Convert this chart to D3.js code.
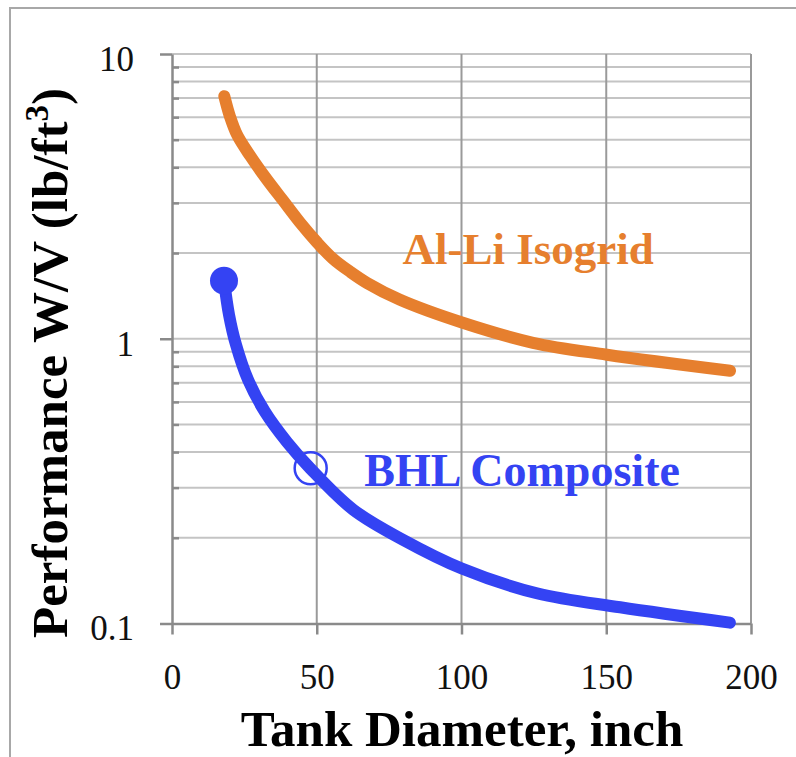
<!DOCTYPE html>
<meta charset="utf-8">
<style>
html, body { margin: 0; background: #fff; }
svg { font-family: "Liberation Serif", "Times New Roman", serif; }
.grid-h line { stroke: #c4c4c4; stroke-width: 2; }
.grid-v line { stroke: #9a9a9a; stroke-width: 2; }
.axis path, .axis line { stroke: #8a8a8a; stroke-width: 2.5; }
.axis text { fill: #111; font-size: 35px; font-family: "Liberation Serif", "Times New Roman", serif; }
.curve { fill: none; stroke-width: 12; stroke-linecap: round; stroke-linejoin: round; }
</style>
<body></body>
<script src="https://d3js.org/d3.v7.min.js"></script>
<script>

// data (diameter in inch, W/V in lb/ft3)
var aliX = [18.07, 20.03, 22.45, 26.94, 32.82, 38.34, 44.21, 50.09, 55.61, 61.49, 67.36, 78.76, 100.17, 124.7, 150.26, 192.75];
var aliY = [7.11, 6.03, 5.21, 4.40, 3.62, 3.06, 2.56, 2.18, 1.91, 1.72, 1.57, 1.37, 1.14, 0.968, 0.879, 0.772];
var bhlX = [17.96, 19.7, 22.1, 26.25, 32.1, 39.7, 47.7, 62.6, 79.9, 100.1, 126, 154.8, 192.7];
var bhlY = [1.6, 1.214, 0.953, 0.718, 0.554, 0.434, 0.351, 0.251, 0.1965, 0.156, 0.1277, 0.114, 0.1007];
var openMarker = [47.9, 0.351];

var xTicks = [0, 50, 100, 150, 200];
var yMajor = [0.1, 1, 10];
var yMinor = [0.2, 0.3, 0.4, 0.5, 0.6, 0.7, 0.8, 0.9, 2, 3, 4, 5, 6, 7, 8, 9];

var margin = {top: 54, left: 172},
    width = 579,
    height = 569.5;

var svg = d3.select("body").append("svg")
    .attr("width", 796)
    .attr("height", 757);

// outer frame
svg.append("rect")
    .attr("x", 10).attr("y", 8)
    .attr("width", 900).attr("height", 900)
    .attr("fill", "none").attr("stroke", "#a8a8a8").attr("stroke-width", 2);

var g = svg.append("g")
    .attr("transform", "translate(" + margin.left + "," + margin.top + ")");

var x = d3.scaleLinear().domain([0, 200]).range([0, width]);
var y = d3.scaleLog().domain([0.1, 10]).range([height, 0]);

// gridlines
g.append("g").attr("class", "grid-h")
  .selectAll("line").data(yMinor.concat([1, 10]))
  .join("line")
    .attr("x1", 0).attr("x2", width)
    .attr("y1", function(d) { return y(d); })
    .attr("y2", function(d) { return y(d); });

g.append("g").attr("class", "grid-v")
  .selectAll("line").data(xTicks.slice(1))
  .join("line")
    .attr("x1", function(d) { return x(d); })
    .attr("x2", function(d) { return x(d); })
    .attr("y1", 0).attr("y2", height);

// axes
g.append("g")
    .attr("class", "axis")
    .attr("transform", "translate(0," + height + ")")
    .call(d3.axisBottom(x).tickValues(xTicks).tickSize(11).tickPadding(30).tickSizeOuter(0))
  .selectAll("text").attr("dy", "0.7em");

g.append("g")
    .attr("class", "axis")
    .call(d3.axisLeft(y).tickValues(yMajor).tickFormat(d3.format("")).tickSize(12).tickPadding(26).tickSizeOuter(0))
  .selectAll("text").attr("dy", "0.47em");

g.append("g")
    .attr("class", "axis")
    .call(d3.axisRight(y).tickValues(yMinor).tickFormat("").tickSize(7).tickSizeOuter(0))
  .select(".domain").remove();

// curves
var line = d3.line()
    .x(function(d) { return x(d[0]); })
    .y(function(d) { return y(d[1]); })
    .curve(d3.curveCatmullRom.alpha(0.5));

g.append("path")
    .datum(d3.zip(aliX, aliY))
    .attr("class", "curve")
    .attr("stroke", "#e67f2e")
    .attr("d", line);

g.append("path")
    .datum(d3.zip(bhlX, bhlY))
    .attr("class", "curve")
    .attr("stroke", "#3443f3")
    .attr("d", line);

// markers
g.append("circle")
    .attr("cx", x(bhlX[0])).attr("cy", y(bhlY[0]))
    .attr("r", 14).attr("fill", "#3443f3");

g.append("circle")
    .attr("cx", x(openMarker[0])).attr("cy", y(openMarker[1]))
    .attr("r", 16).attr("fill", "none")
    .attr("stroke", "#3443f3").attr("stroke-width", 2.5);

// series labels
g.append("text")
    .attr("x", x(79.6)).attr("y", y(1.83))
    .attr("fill", "#e67f2e").attr("font-weight", "bold").attr("font-size", 45)
    .text("Al-Li Isogrid");

g.append("text")
    .attr("x", x(66.4)).attr("y", y(0.305))
    .attr("fill", "#3443f3").attr("font-weight", "bold").attr("font-size", 46)
    .text("BHL Composite");

// axis titles
svg.append("text")
    .attr("x", 462).attr("y", 746)
    .attr("text-anchor", "middle")
    .attr("font-weight", "bold").attr("font-size", 51)
    .text("Tank Diameter, inch");

var yt = svg.append("text")
    .attr("transform", "translate(67,363) rotate(-90)")
    .attr("text-anchor", "middle")
    .attr("font-weight", "bold").attr("font-size", 51);
yt.append("tspan").text("Performance W/V (lb/ft");
yt.append("tspan").attr("font-size", 33).attr("dy", -19).text("3");
yt.append("tspan").attr("dy", 19).text(")");

</script>
